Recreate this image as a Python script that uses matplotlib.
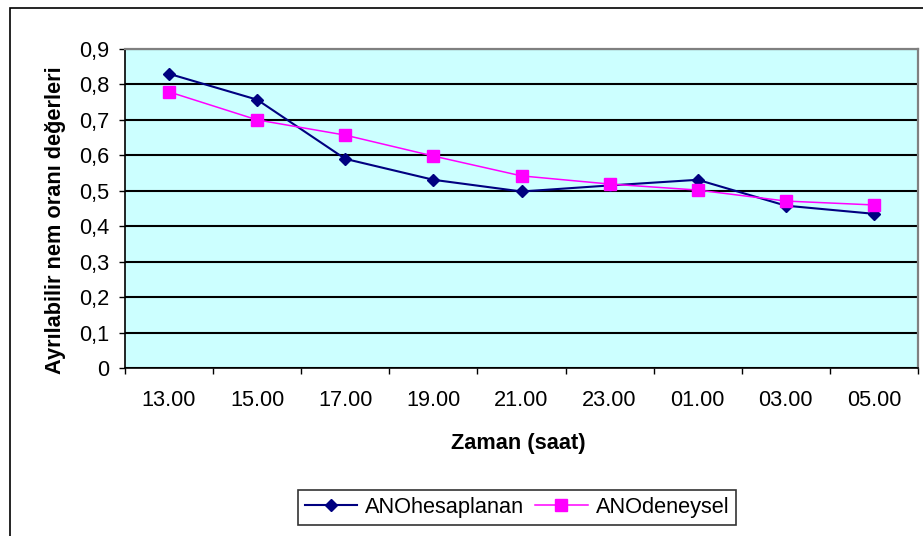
import matplotlib.pyplot as plt
import numpy as np
from matplotlib.patches import Rectangle
from matplotlib.ticker import FixedLocator, FuncFormatter

plt.rcParams["font.family"] = ["Liberation Sans", "DejaVu Sans"]

hours = ["13.00", "15.00", "17.00", "19.00", "21.00", "23.00", "01.00", "03.00", "05.00"]
ano_hesaplanan = [0.830, 0.757, 0.590, 0.531, 0.498, 0.515, 0.531, 0.458, 0.435]
ano_deneysel = [0.779, 0.700, 0.657, 0.598, 0.542, 0.519, 0.502, 0.471, 0.460]

FS = 15.7

fig = plt.figure(figsize=(9.23, 5.36), dpi=100)
ax = fig.add_axes([125 / 923, 1 - 368 / 536, 793 / 923, 319 / 536])

# outer chart frame
fig.patches.append(Rectangle((10 / 923, -0.01), 1.0, 1 - 8 / 536 + 0.01,
                             transform=fig.transFigure, fill=False,
                             edgecolor="black", linewidth=1.2))

x = np.arange(len(hours))
ax.set_facecolor("#CCFFFF")
ax.plot(x, ano_hesaplanan, color="#000080", marker="D", markersize=6.3,
        linewidth=1.5, label="ANOhesaplanan", zorder=3)
ax.plot(x, ano_deneysel, color="#FF00FF", marker="s", markersize=8.3,
        linewidth=1.1, label="ANOdeneysel", zorder=3)

ax.set_xlim(-0.5, len(hours) - 0.5)
ax.set_ylim(0, 0.9)
ax.set_yticks(np.arange(0, 0.91, 0.1))
ax.yaxis.set_major_formatter(FuncFormatter(
    lambda v, p: "0" if abs(v) < 1e-9 else f"{v:.1f}".replace(".", ",")))
ax.grid(axis="y", color="black", linewidth=1.5)
ax.set_axisbelow(True)

ax.set_xticks(x)
ax.set_xticklabels(hours)
ax.xaxis.set_major_locator(FixedLocator(x))
ax.tick_params(axis="x", length=0, pad=15.5, labelsize=FS)
ax.xaxis.set_minor_locator(FixedLocator(np.arange(-0.5, len(hours), 1)))
ax.tick_params(axis="x", which="minor", length=4.5, direction="out", width=1)
ax.tick_params(axis="y", length=4.5, direction="out", width=1, labelsize=FS, pad=7)

for s in ["top", "right"]:
    ax.spines[s].set_color("#808080")
    ax.spines[s].set_linewidth(1.6)
for s in ["left", "bottom"]:
    ax.spines[s].set_color("black")
    ax.spines[s].set_linewidth(1.2)

ax.set_xlabel("Zaman (saat)", fontsize=FS, fontweight="bold", va="center")
ax.xaxis.set_label_coords((518 - 125) / 793, (368 - 443) / 319)
ax.set_ylabel("Ayrılabilir nem oranı değerleri", fontsize=FS,
              fontweight="bold", va="center")
ax.yaxis.set_label_coords((55 - 125) / 793, (368 - 220) / 319)

leg = fig.legend(loc="center", bbox_to_anchor=(517 / 923, 1 - 507.5 / 536),
                 ncol=2, frameon=True, fancybox=False, fontsize=FS,
                 edgecolor="black", handlelength=2.4, columnspacing=0.5,
                 borderpad=0.3, handletextpad=0.37, borderaxespad=0)
leg.get_frame().set_linewidth(1.2)

fig.savefig("out.png", dpi=100)
